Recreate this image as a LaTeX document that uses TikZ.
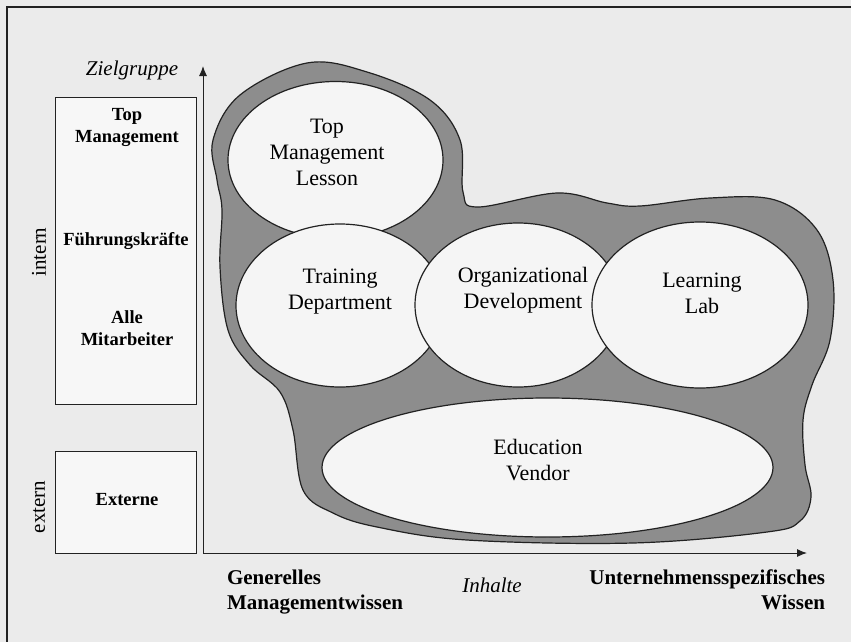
\documentclass[tikz,border=0pt]{standalone}
\usepackage{fontspec}
\setmainfont{Liberation Serif}
\usetikzlibrary{shapes.geometric,arrows.meta}

\definecolor{paper}{HTML}{EBEBEB}
\definecolor{ink}{HTML}{222222}
\definecolor{sheet}{HTML}{F7F7F7}
\definecolor{blobgray}{HTML}{8D8D8D}
\definecolor{lobewhite}{HTML}{F5F5F5}

\begin{document}
\begin{tikzpicture}[x=1pt,y=-1pt]
\tikzset{ >={Latex[length=10pt,width=8pt]}, inner sep=0pt, outer sep=0pt,
  grpbox/.style={draw=ink, fill=sheet, line width=1pt, minimum width=141pt},
  lobe/.style={ellipse, draw=ink, fill=lobewhite, line width=1.2pt},
  lobetext/.style={align=center, font=\fontsize{22}{26}\selectfont},
  grptext/.style={align=center, font=\fontsize{18.5}{22}\selectfont\bfseries},
  axtext/.style={font=\fontsize{21}{25}\selectfont\itshape},
  endtext/.style={font=\fontsize{21}{25}\selectfont\bfseries},
}

% paper and frame
\fill [paper] (0,0) rectangle (851,642);
\useasboundingbox (0,0) rectangle (851,642);
\draw [ink, line width=1.3pt] (7,642) -- (7,7) -- (851,7);

% target groups
\node [grpbox, minimum height=307pt] (intbox) at (125.5,250.5) {};
\node [grpbox, minimum height=102pt] (extbox) at (125.5,502.5) {};

\node [grptext] (topm) at (127,127) {Top\\Management};
\node [grptext, anchor=base] (fk) at (126,245) {Führungskräfte};
\node [grptext] (alle) at (127,328) {Alle\\Mitarbeiter};
\node [grptext, anchor=base] (ext) at (127,505) {Externe};

\node [font=\fontsize{21}{25}\selectfont, rotate=90] (intern) at (39,252) {intern};
\node [font=\fontsize{21}{25}\selectfont, rotate=90] (extern) at (39,507) {extern};

% gray region
\draw [ink, fill=blobgray, line width=1.2pt] plot [smooth cycle, tension=0.6] coordinates {
  (213,140) (240,95) (307,63) (367,72) (430,100) (460,140) (463,192)
  (478,207) (557,193) (607,203) (640,206) (710,198) (775,200) (817,230)
  (833,280) (830,340) (812,385) (803,420) (805,465) (811,497) (800,521)
  (767,532) (633,543) (467,540) (377,527) (333,513) (303,490) (293,430)
  (280,392) (250,365) (228,330) (220,267) (222,210) (217,180)};

% lobes
\node [lobe, minimum width=215pt, minimum height=157pt] (tml) at (335.5,160) {};
\node [lobe, minimum width=208pt, minimum height=163pt] (td)  at (340,305.5) {};
\node [lobe, minimum width=206pt, minimum height=164pt] (od)  at (518,305) {};
\node [lobe, minimum width=216pt, minimum height=166pt] (ll)  at (700,305) {};
\node [lobe, minimum width=451pt, minimum height=139pt] (ev)  at (547.5,467.5) {};

\node [lobetext] (tmlT) at (327,152) {Top\\Management\\Lesson};
\node [lobetext] (tdT)  at (340,292) {Training\\Department};
\node [lobetext] (odT)  at (523,290) {Organizational\\Development};
\node [lobetext] (llT)  at (702,293) {Learning\\Lab};
\node [lobetext] (evT)  at (538,460) {Education\\Vendor};

% axes
\coordinate (O) at (203,553);
\coordinate (ytip) at (203,66);
\coordinate (xtip) at (807,553);
\draw [->, ink, line width=1pt] (O) -- (ytip);
\draw [->, ink, line width=1pt] (O) -- (xtip);

\node [axtext, anchor=base] (ziel) at (132,75) {Zielgruppe};
\node [axtext, anchor=base] (inh) at (492,592) {Inhalte};

\node [endtext, align=left, anchor=west] (gen) at (227,592) {Generelles\\Managementwissen};
\node [endtext, align=right, anchor=east] (spez) at (825,590) {Unternehmensspezifisches\\Wissen};

\end{tikzpicture}
\end{document}
